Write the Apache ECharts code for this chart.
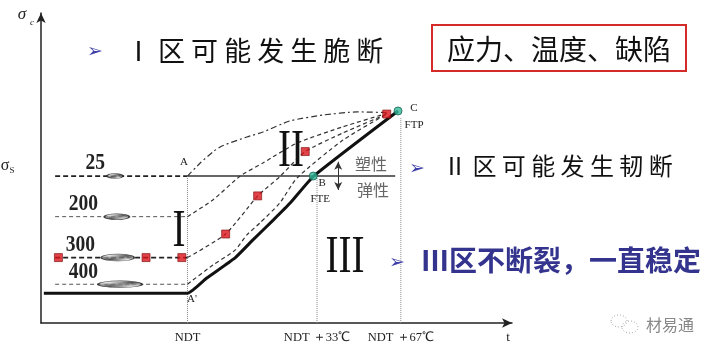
<!DOCTYPE html>
<html>
<head>
<meta charset="utf-8">
<script src="https://cdn.jsdelivr.net/npm/echarts@6/dist/echarts.min.js"></script>
<style>
  html, body { margin: 0; padding: 0; background: #fff; }
  #main { width: 718px; height: 354px; }
</style>
</head>
<body>
<div id="main"></div>
<script>
// 横轴：温度位置（示意单位 0~100），纵轴：应力（示意单位 0~100）
const tickValues = [31.1, 58.6, 76.4];
const tickLabels = ['NDT', 'NDT ＋33℃', 'NDT ＋67℃'];
const sigmaS = 47.4;

// 缺陷尺寸及对应的断裂应力水平
const crackSizes = ['25', '200', '300', '400'];
const crackLevels = [47.4, 34.3, 21.1, 12.5];
const crackMarkX = [15.7, 16.1, 16.3, 16.8];
const crackLineStart = 3.0;

// FTE-FTP 粗实线
const fteCurve = [[0.6, 9.6], [31.1, 9.6], [35.2, 14.5], [41.2, 21.0], [45.0, 26.8],
  [49.3, 33.2], [52.9, 38.7], [57.9, 47.4], [75.8, 68.4]];

// 各缺陷尺寸的断裂曲线（虚线）
const curve25 = [[31.1, 47.4], [33.8, 51.6], [36.5, 55.2], [38.4, 57.1], [43.7, 60.0],
  [47.1, 61.6], [52.9, 65.2], [59.9, 67.1], [67.1, 68.1], [73.4, 67.9]];
const curve200 = [[31.1, 34.3], [36.5, 39.7], [42.3, 47.4], [47.1, 51.6], [54.3, 58.0],
  [64.1, 63.3], [73.4, 67.6]];
const curve300 = [[31.1, 21.1], [39.2, 28.7], [46.0, 41.0], [50.7, 47.2], [56.1, 55.3],
  [64.1, 61.3], [73.4, 67.4]];
const curve400 = [[31.1, 12.5], [36.5, 18.7], [41.2, 23.5], [43.7, 28.4], [46.5, 32.3],
  [50.7, 38.7], [54.3, 46.7], [64.1, 59.0], [73.4, 67.4]];

const redPoints = [[3.7, 21.1], [22.3, 21.1], [29.9, 21.1], [39.2, 28.7], [46.0, 41.0],
  [56.1, 55.3], [73.4, 67.4]];
const pointB = [57.8, 47.4];
const pointC = [75.8, 68.4];

const sigmaSLine = [[31.1, 47.4], [75.2, 47.4]];
const ndtLine = [[31.1, 47.4], [31.1, 0]];
const fteLine = [[58.6, 47.4], [58.6, 0]];
const ftpLine = [[76.4, 66.1], [76.4, 0]];
const plasticArrow = [[63.1, 52.0], [63.1, 42.9]];

// 缺陷椭圆大小
const crackSymbol = [[16, 5], [25, 6], [33, 7], [44, 7]];

function hatch() {
  const c = document.createElement('canvas');
  c.width = 4; c.height = 4;
  const g = c.getContext('2d');
  g.fillStyle = '#d8d8d8';
  g.fillRect(0, 0, 4, 4);
  g.strokeStyle = '#222';
  g.lineWidth = 1;
  g.beginPath();
  g.moveTo(0, 4); g.lineTo(4, 0);
  g.stroke();
  return c;
}

function line(data, color, width, type, extra) {
  return Object.assign({
    type: 'line', data: data, symbol: 'none', silent: true, animation: false,
    lineStyle: { color: color, width: width, type: type }
  }, extra || {});
}

const chart = echarts.init(document.getElementById('main'), null, { renderer: 'canvas' });

const series = [];
crackLevels.forEach((lv, i) => {
  const thick = i === 0 || i === 2;
  series.push(line([[crackLineStart, lv], [31.1, lv]], thick ? '#222' : '#555',
    thick ? 1.8 : 1, thick ? [5, 3] : [4, 3]));
});
series.push(line(sigmaSLine, '#333', 1.5, 'solid', {
  markLine: {
    silent: true, symbol: ['arrow', 'arrow'], symbolSize: [6, 8],
    label: { show: false },
    lineStyle: { color: '#333', width: 1, type: 'solid' },
    data: [[{ coord: plasticArrow[0] }, { coord: plasticArrow[1] }]]
  }
}));
[ndtLine, fteLine, ftpLine].forEach(d => series.push(line(d, '#888', 1, 'dotted')));
series.push(line(curve25, '#333', 1.2, [6, 3, 2, 3], { smooth: 0.2 }));
series.push(line(curve200, '#333', 1.2, [4, 3], { smooth: 0.2 }));
series.push(line(curve300, '#333', 1.2, [4, 3], { smooth: 0.2 }));
series.push(line(curve400, '#333', 1.2, [4, 3], { smooth: 0.2 }));
series.push(line(fteCurve, '#111', 3, 'solid', { smooth: 0.15 }));

series.push({
  type: 'scatter', silent: true, animation: false, z: 5,
  symbol: 'circle',
  itemStyle: { color: { image: hatch(), repeat: 'repeat' }, borderColor: '#222', borderWidth: 1 },
  data: crackLevels.map((lv, i) => ({ value: [crackMarkX[i], lv], symbolSize: crackSymbol[i] }))
});
series.push({
  type: 'scatter', silent: true, animation: false, z: 6,
  symbol: 'rect', symbolSize: 8,
  itemStyle: { color: '#d9141b', borderColor: '#7a0a0a', borderWidth: 0.8 },
  data: redPoints
});
series.push({
  type: 'scatter', silent: true, animation: false, z: 6,
  symbol: 'circle', symbolSize: 8,
  itemStyle: { color: '#33b99b', borderColor: '#15604f', borderWidth: 1 },
  data: [pointB, pointC]
});

chart.setOption({
  animation: false,
  backgroundColor: '#fff',
  grid: { left: 41, top: 13, width: 471, height: 310 },
  xAxis: {
    type: 'value', min: 0, max: 100,
    axisLine: { show: true, symbol: ['none', 'arrow'], symbolSize: [7, 10], lineStyle: { color: '#222', width: 1.5 } },
    axisTick: { show: false },
    splitLine: { show: false },
    axisLabel: {
      customValues: tickValues,
      formatter: v => { const i = tickValues.indexOf(v); return i >= 0 ? tickLabels[i] : ''; },
      margin: 8, fontFamily: 'Liberation Serif', fontSize: 12.5, color: '#222'
    }
  },
  yAxis: {
    type: 'value', min: 0, max: 100,
    axisLine: { show: true, onZero: false, symbol: ['none', 'arrow'], symbolSize: [7, 10], lineStyle: { color: '#222', width: 1.5 } },
    axisTick: { show: false },
    axisLabel: { show: false },
    splitLine: { show: false }
  },
  series: series
});

// 文字标注
function px(p) { return chart.convertToPixel({ gridIndex: 0 }, p); }
function txt(text, x, y, o) {
  return {
    type: 'text', x: x, y: y, z: 10, silent: true,
    scaleX: (o && o.scaleX) || 1,
    style: Object.assign({
      text: text, fill: '#222', fontSize: 12, fontFamily: 'Liberation Serif',
      align: 'center', verticalAlign: 'middle'
    }, o && o.style)
  };
}
const serif = 'Liberation Serif';
const cjk = '"Noto Sans CJK SC"';
const graphic = [];

graphic.push(txt('σ', 22, 15, { style: { fontSize: 17, fontStyle: 'italic' } }));
graphic.push(txt('c', 32, 23, { style: { fontSize: 9, fontStyle: 'italic' } }));
graphic.push(txt('σ', 5, 166, { style: { fontSize: 16 } }));
graphic.push(txt('S', 12, 171, { style: { fontSize: 9 } }));

crackSizes.forEach((s, i) => {
  const p = px([crackMarkX[i], crackLevels[i]]);
  const right = [105, 98, 95, 98][i];
  graphic.push(txt(s, right, p[1] - 1, {
    scaleX: 0.85,
    style: { fontSize: 23, fontWeight: 'bold', align: 'right', verticalAlign: 'bottom', fontFamily: serif }
  }));
});

graphic.push(txt('I', 179, 232, { scaleX: 0.75, style: { fontSize: 52, fontFamily: serif, fill: '#111' } }));
graphic.push(txt('II', 291, 152, { scaleX: 0.75, style: { fontSize: 52, fontFamily: serif, fill: '#111' } }));
graphic.push(txt('III', 345, 258, { scaleX: 0.75, style: { fontSize: 52, fontFamily: serif, fill: '#111' } }));

const pB = px(pointB), pC = px(pointC);
graphic.push(txt('A', 184, 162, { style: { fontSize: 11 } }));
graphic.push(txt("A'", 192, 299, { style: { fontSize: 11 } }));
graphic.push(txt('B', pB[0] + 9, pB[1] + 7, { style: { fontSize: 11 } }));
graphic.push(txt('FTE', pB[0] + 7, pB[1] + 23, { style: { fontSize: 11 } }));
graphic.push(txt('C', pC[0] + 16, pC[1] - 3, { style: { fontSize: 11 } }));
graphic.push(txt('FTP', pC[0] + 16, pC[1] + 14, { style: { fontSize: 11 } }));
graphic.push(txt('塑性', 371, 164, { style: { fontSize: 16, fontFamily: cjk, fill: '#666' } }));
graphic.push(txt('弹性', 373, 190, { style: { fontSize: 16, fontFamily: cjk, fill: '#666' } }));
graphic.push(txt('t', 508, 338, { style: { fontSize: 13 } }));

// 标题文字
const bullet = { fontSize: 19, fontFamily: 'DejaVu Sans', fill: '#3f3fa8' };
graphic.push(txt('➢', 95, 52, { style: bullet }));
graphic.push(txt('Ⅰ 区 可 能 发 生 脆 断', 125, 51, {
  style: { fontSize: 27, fontFamily: cjk, fill: '#111', align: 'left' }
}));
graphic.push({
  type: 'rect', z: 10, silent: true,
  shape: { x: 432, y: 25, width: 254, height: 46 },
  style: { fill: 'none', stroke: '#d42a2a', lineWidth: 2 }
});
graphic.push(txt('应力、温度、缺陷', 559, 49, { style: { fontSize: 28, fontFamily: cjk, fill: '#111' } }));
graphic.push(txt('➢', 417, 169, { style: bullet }));
graphic.push(txt('Ⅱ 区 可 能 发 生 韧 断', 443, 166, {
  style: { fontSize: 24, fontFamily: cjk, fill: '#111', align: 'left' }
}));
graphic.push(txt('➢', 397, 263, { style: bullet }));
graphic.push(txt('Ⅲ区不断裂，一直稳定', 421, 260, {
  style: { fontSize: 28, fontFamily: cjk, fill: '#34348f', align: 'left', fontWeight: 'bold' }
}));

// 水印
graphic.push({ type: 'ellipse', z: 10, silent: true, shape: { cx: 619, cy: 321, rx: 8, ry: 6 },
  style: { fill: 'none', stroke: '#aaa', lineDash: [1, 2] } });
graphic.push({ type: 'ellipse', z: 10, silent: true, shape: { cx: 630, cy: 327, rx: 8, ry: 6 },
  style: { fill: 'none', stroke: '#aaa', lineDash: [1, 2] } });
graphic.push(txt('材易通', 670, 325, { style: { fontSize: 16, fontFamily: cjk, fill: '#888' } }));

chart.setOption({ graphic: graphic });
</script>
</body>
</html>
